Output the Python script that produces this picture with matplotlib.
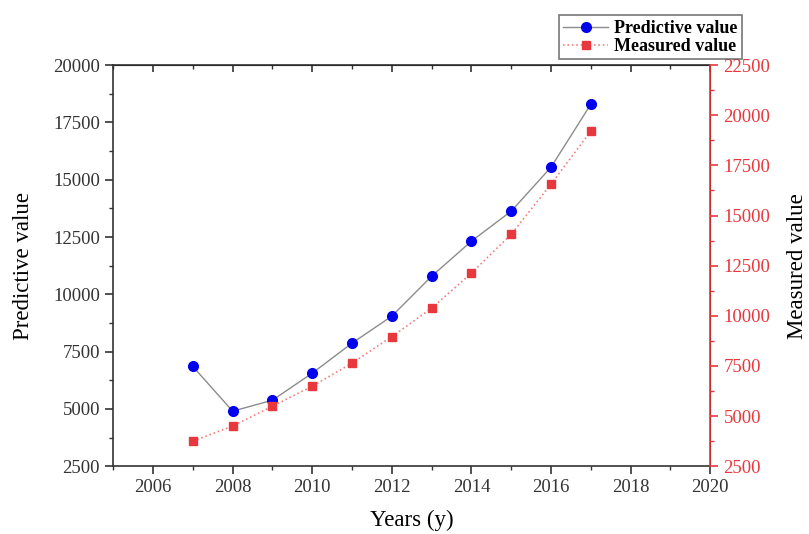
import numpy as np
import matplotlib.pyplot as plt
from matplotlib.ticker import MultipleLocator

plt.rcParams['font.family'] = ['Liberation Serif', 'DejaVu Serif']

years = [2007, 2008, 2009, 2010, 2011, 2012, 2013, 2014, 2015, 2016, 2017]
predictive = [6850, 4900, 5380, 6560, 7870, 9050, 10790, 12320, 13630, 15550, 18300]
measured = [3750, 4500, 5490, 6490, 7640, 8960, 10380, 12130, 14070, 16570, 19210]

red = '#e8383d'

fig = plt.figure(figsize=(8.09, 5.34), dpi=100)
ax = fig.add_axes([0.140, 0.127, 0.738, 0.751])
ax2 = ax.twinx()

l1, = ax.plot(years, predictive, '-', color='#8c8c8c', lw=1.0,
              marker='o', ms=7, mfc='#0000ee', mec='#0000ee', label='Predictive value')
l2, = ax2.plot(years, measured, ':', color='#f08080', lw=1.2,
               marker='s', ms=6, mfc=red, mec=red, label='Measured value')

ax.set_xlim(2005, 2020)
ax.set_ylim(2500, 20000)
ax2.set_ylim(2500, 22500)

ax.xaxis.set_major_locator(MultipleLocator(2))
ax.xaxis.set_minor_locator(MultipleLocator(1))
ax.yaxis.set_major_locator(MultipleLocator(2500))
ax.yaxis.set_minor_locator(MultipleLocator(1250))
ax2.yaxis.set_major_locator(MultipleLocator(2500))
ax2.yaxis.set_minor_locator(MultipleLocator(1250))

ax.tick_params(which='major', direction='out', length=6, width=1.2, labelsize=13.5,
               color='#333333', labelcolor='#333333')
ax.tick_params(which='minor', direction='out', length=3, width=1.0, color='#333333')
ax2.tick_params(which='major', direction='out', length=6, width=1.2, labelsize=13.5,
                colors=red)
ax2.tick_params(which='minor', direction='out', length=3, width=1.0, color=red)

top = ax.secondary_xaxis('top')
top.xaxis.set_major_locator(MultipleLocator(2))
top.xaxis.set_minor_locator(MultipleLocator(1))
top.tick_params(which='major', direction='in', length=5, width=1.2, labeltop=False, color='#333333')
top.tick_params(which='minor', direction='in', length=3, width=1.0, color='#333333')

for s in ['left', 'bottom', 'top']:
    ax.spines[s].set_linewidth(1.2)
    ax.spines[s].set_color('#333333')
ax2.spines['right'].set_color(red)
ax2.spines['right'].set_linewidth(1.2)
ax2.spines['left'].set_visible(False)
ax2.spines['top'].set_visible(False)
ax2.spines['bottom'].set_visible(False)

ax.set_xlabel('Years (y)', fontsize=16.5, labelpad=10)
ax.set_ylabel('Predictive value', fontsize=16.5, labelpad=14)
ax2.set_ylabel('Measured value', fontsize=16.5, labelpad=12)

leg = fig.legend([l1, l2], ['Predictive value', 'Measured value'],
                 loc='upper right', bbox_to_anchor=(0.928, 0.988),
                 prop={'size': 13, 'weight': 'bold'}, frameon=True, fancybox=False,
                 handlelength=2.5, borderpad=0.25, labelspacing=0.05, handletextpad=0.3)
leg.get_frame().set_edgecolor('#555555')
leg.get_frame().set_linewidth(1.2)

fig.savefig('out.png', dpi=100)
